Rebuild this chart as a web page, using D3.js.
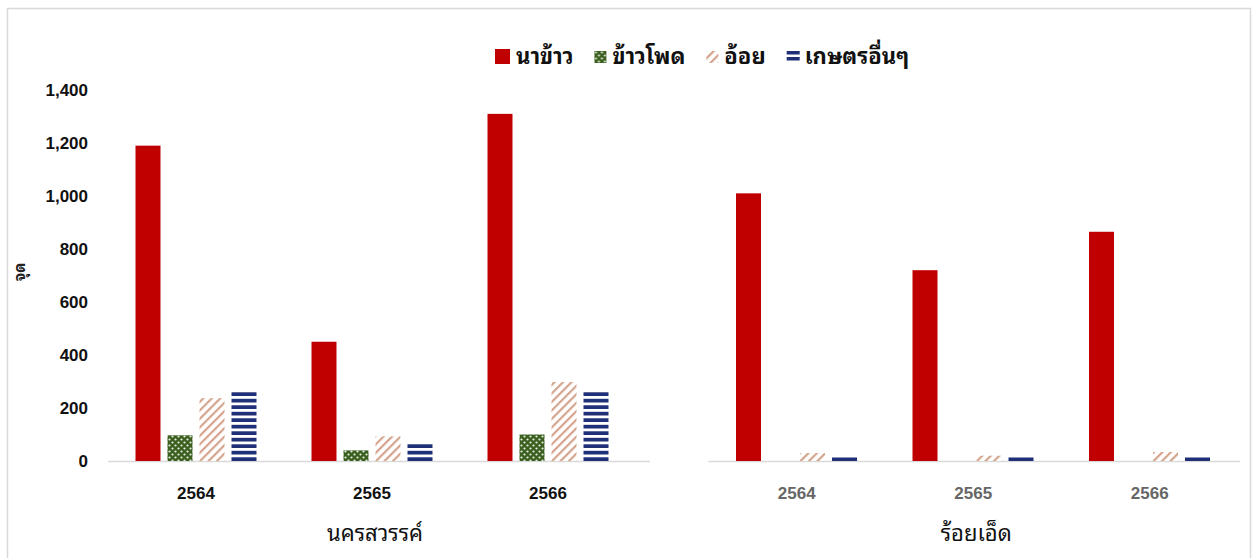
<!DOCTYPE html>
<html>
<head>
<meta charset="utf-8">
<script src="https://cdn.jsdelivr.net/npm/d3@7"></script>
<style>
  html, body { margin: 0; padding: 0; background: #fff; }
  svg { display: block; }
</style>
</head>
<body>
<svg id="chart" width="1254" height="558"></svg>
<script>
// Hotspot counts by land use, per province and year
const years = ["2564", "2565", "2566"];
const series = ["นาข้าว", "ข้าวโพด", "อ้อย", "เกษตรอื่นๆ"];
const provinces = ["นครสวรรค์", "ร้อยเอ็ด"];

// values[year][series]
const nakhonSawanValues = [
  [1190, 97, 237, 265],
  [450, 40, 93, 66],
  [1310, 100, 298, 266]
];
const roiEtValues = [
  [1010, 0, 30, 14],
  [720, 0, 20, 14],
  [865, 0, 34, 14]
];
const yTicks = [0, 200, 400, 600, 800, 1000, 1200, 1400];
const yLabel = "จุด";

const svg = d3.select("#chart");
const fontNum = "'Liberation Sans', Arial, sans-serif";
const fontThai = "Tahoma, 'Noto Sans Thai Looped', 'Noto Sans Thai', 'Noto Sans', 'DejaVu Sans', sans-serif";

// scales
const y = d3.scaleLinear().domain([0, 1400]).range([461, 90]);
const y0 = y(0);

// frame
svg.append("rect")
  .attr("x", 7.5).attr("y", 8.5)
  .attr("width", 1243).attr("height", 560)
  .attr("fill", "#fff").attr("stroke", "#d9d9d9").attr("stroke-width", 1.5);

// fill patterns
const defs = svg.append("defs");
const corn = defs.append("pattern").attr("id", "pCorn")
  .attr("patternUnits", "userSpaceOnUse").attr("width", 6).attr("height", 6);
corn.append("rect").attr("width", 6).attr("height", 6).attr("fill", "#3a5f1f");
corn.append("circle").attr("cx", 1.5).attr("cy", 1.5).attr("r", 1.1).attr("fill", "#e8efe0");
corn.append("circle").attr("cx", 4.5).attr("cy", 4.5).attr("r", 1.1).attr("fill", "#e8efe0");

const cane = defs.append("pattern").attr("id", "pCane")
  .attr("patternUnits", "userSpaceOnUse").attr("width", 6).attr("height", 6)
  .attr("patternTransform", "rotate(45)");
cane.append("rect").attr("width", 6).attr("height", 6).attr("fill", "#fff");
cane.append("rect").attr("x", 0).attr("y", 0).attr("width", 2.2).attr("height", 6).attr("fill", "#d4a48c");

// horizontal stripes anchored on the baseline
const other = defs.append("pattern").attr("id", "pOther")
  .attr("patternUnits", "userSpaceOnUse").attr("width", 6).attr("height", 6.5)
  .attr("patternTransform", `translate(0,${y0})`);
other.append("rect").attr("width", 6).attr("height", 6.5).attr("fill", "#fff");
other.append("rect").attr("x", 0).attr("y", 6.5 - 3.7).attr("width", 6).attr("height", 3.7).attr("fill", "#1f2f78");

const fills = ["#c00000", "url(#pCorn)", "url(#pCane)", "url(#pOther)"];

const panels = [
  { name: provinces[0], values: nakhonSawanValues, range: [108, 636], tickColor: "#111", lineEnd: 650 },
  { name: provinces[1], values: roiEtValues, range: [708.5, 1238], tickColor: "#666", lineEnd: 1240 }
];

const x1 = d3.scaleBand().domain(series).range([27.5, 148.5]).paddingInner(7 / 32);

// y axis
const yAxis = svg.append("g").attr("transform", "translate(88,0)")
  .call(d3.axisLeft(y).tickValues(yTicks).tickFormat(d3.format(",")).tickSize(0).tickPadding(0));
yAxis.select(".domain").remove();
yAxis.selectAll("text")
  .attr("font-family", fontNum).attr("font-size", 17).attr("font-weight", "bold")
  .attr("fill", "#111");

svg.append("text")
  .attr("transform", "translate(25,272) rotate(-90)")
  .attr("text-anchor", "middle")
  .attr("font-family", fontThai).attr("font-size", 15).attr("font-weight", "bold")
  .attr("fill", "#222").text(yLabel);

panels.forEach(p => {
  const x0 = d3.scaleBand().domain(years).range(p.range);

  // baseline
  svg.append("line")
    .attr("x1", p.range[0]).attr("x2", p.lineEnd)
    .attr("y1", y0 + 0.5).attr("y2", y0 + 0.5)
    .attr("stroke", "#d9d9d9").attr("stroke-width", 1.5);

  const groups = svg.append("g").selectAll("g")
    .data(years).join("g")
    .attr("transform", d => `translate(${x0(d)},0)`);

  groups.selectAll("rect")
    .data((d, i) => p.values[i].map((v, j) => ({ s: series[j], v, j })))
    .join("rect")
    .attr("x", d => x1(d.s))
    .attr("y", d => y(d.v))
    .attr("width", x1.bandwidth())
    .attr("height", d => y0 - y(d.v))
    .attr("fill", d => fills[d.j]);

  // category axis
  const xAxis = svg.append("g").attr("transform", `translate(0,${y0})`)
    .call(d3.axisBottom(x0).tickSize(0).tickPadding(26));
  xAxis.select(".domain").remove();
  xAxis.selectAll("text")
    .attr("font-family", fontNum).attr("font-size", 17).attr("font-weight", "bold")
    .attr("fill", p.tickColor);

  // province title
  svg.append("text")
    .attr("x", (p.range[0] + p.range[1]) / 2 + 3)
    .attr("y", 541)
    .attr("text-anchor", "middle")
    .attr("font-family", fontThai).attr("font-size", 22)
    .attr("fill", "#111").text(p.name);
});

// legend
const legend = svg.append("g").attr("transform", "translate(495,57)");
let lx = 0;
series.forEach((s, i) => {
  const g = legend.append("g").attr("transform", `translate(${lx},0)`);
  if (i === 3) {
    g.append("rect").attr("x", 0).attr("y", -6).attr("width", 13).attr("height", 3.5).attr("fill", "#1f2f78");
    g.append("rect").attr("x", 0).attr("y", 0).attr("width", 13).attr("height", 3.5).attr("fill", "#1f2f78");
  } else if (i === 0) {
    g.append("rect").attr("x", 0).attr("y", -8).attr("width", 15).attr("height", 15).attr("fill", fills[i]);
  } else {
    g.append("rect").attr("x", 0).attr("y", -6).attr("width", 12).attr("height", 12).attr("fill", fills[i]);
  }
  const tx = i === 0 ? 21 : 18;
  const t = g.append("text").attr("x", tx).attr("y", 7)
    .attr("font-family", fontThai).attr("font-size", 22).attr("font-weight", "bold")
    .attr("fill", "#111").text(s);
  lx += tx + t.node().getComputedTextLength() + 21;
});
</script>
</body>
</html>
